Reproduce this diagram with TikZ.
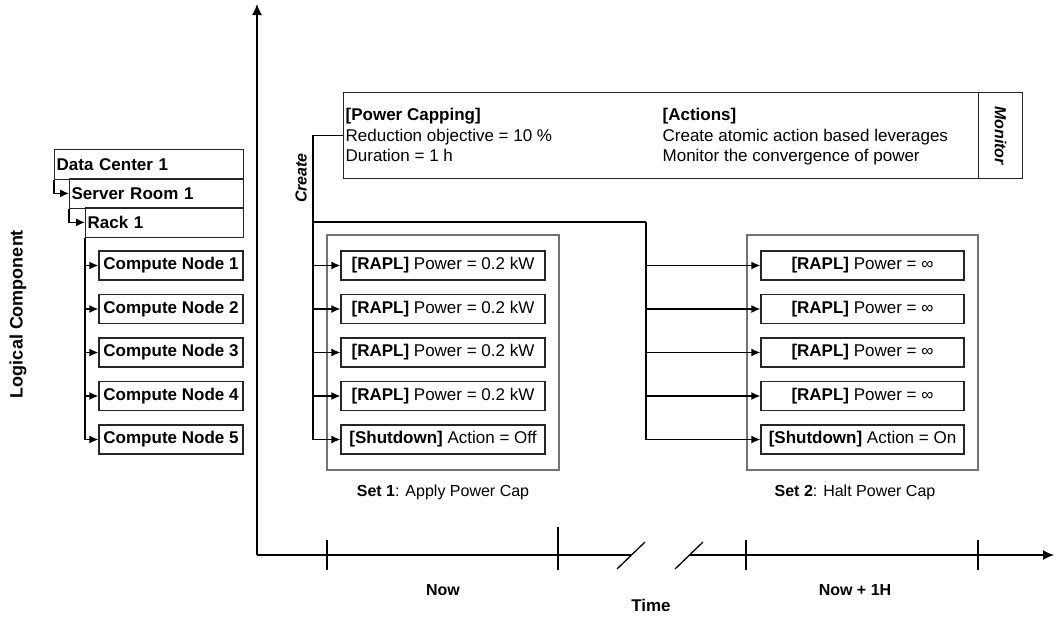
\documentclass[tikz,border=0pt]{standalone}
\usepackage{fontspec}
\setmainfont{Liberation Sans}
\usetikzlibrary{arrows.meta,positioning,fit,calc}

\newcommand{\boxfont}{\fontsize{17}{20.5}\selectfont}
\newcommand{\smallfont}{\fontsize{16}{18}\selectfont}

\begin{document}
\begin{tikzpicture}[x=1pt, y=-1pt, line width=1.3pt, font=\boxfont]
    \tikzstyle{conn}=[-{Latex[length=9pt,width=8pt]}]
    \tikzstyle{zonebox}=[rectangle, draw=black!85, minimum height=29.5pt, inner sep=2pt, anchor=north west, align=left, font=\boxfont\bfseries]
    \tikzstyle{compbox}=[rectangle, draw=black!85, minimum width=144pt, minimum height=29pt, inner sep=1pt, font=\boxfont\bfseries]
    \tikzstyle{leverbox}=[rectangle, draw=black!85, minimum width=204pt, minimum height=29pt, inner sep=1pt]
    \tikzstyle{setbox}=[rectangle, draw=black!55, line width=1.6pt, inner xsep=13.5pt, inner ysep=15.5pt]
    \tikzstyle{axislbl}=[font=\smallfont\bfseries]
    \tikzstyle{setlbl}=[font=\smallfont]
    \useasboundingbox (0,0) rectangle (1055,621);

    \node[rotate=90, font=\fontsize{18}{20}\selectfont\bfseries] (ylbl) at (18,314) {Logical Component};

    \node[zonebox, text width=185pt] (dc) at (54,149) {Data Center 1};
    \node[zonebox, text width=170pt] (room) at (69,178) {Server Room 1};
    \node[zonebox, text width=154pt] (rack) at (85,207) {Rack 1};
    \foreach \i/\y in {1/265.5,2/309,3/352.5,4/396,5/439.5}
        \node[compbox] (cn\i) at (171,\y) {Compute Node \i};
    \draw[conn] (dc.south west) |- (room.west);
    \draw[conn] (room.south west) |- (rack.west);
    \foreach \i in {1,...,5}
        \draw[conn] (rack.south west) |- (cn\i.west);

    \node[draw=black!85, anchor=north west, minimum width=635pt, minimum height=86pt] (cap) at (343,92) {};
    \node[draw=black!85, anchor=north west, minimum width=44pt, minimum height=86pt] (mon) at (978,92) {};
    \node[rotate=-90, font=\smallfont\bfseries\itshape] (monlbl) at (mon.center) {Monitor};
    \node[anchor=north west, align=left, inner sep=2pt] (capinfo) at (343,106) {\textbf{[Power Capping]}\\Reduction objective = 10 \%\\Duration = 1 h};
    \node[anchor=north west, align=left, inner sep=2pt] (actions) at (660,106) {\textbf{[Actions]}\\Create atomic action based leverages\\Monitor the convergence of power};

    \foreach \i/\y in {1/265.5,2/309,3/352.5,4/396}
        \node[leverbox] (a\i) at (443,\y) {\textbf{[RAPL]} Power = 0.2 kW};
    \node[leverbox] (a5) at (443,439.5) {\textbf{[Shutdown]} Action = Off};
    \foreach \i/\y in {1/265.5,2/309,3/352.5,4/396}
        \node[leverbox, minimum width=203pt] (b\i) at (862.5,\y) {\textbf{[RAPL]} Power = ∞};
    \node[leverbox, minimum width=203pt] (b5) at (862.5,439.5) {\textbf{[Shutdown]} Action = On};
    \node[setbox, fit=(a1)(a5)] (set1) {};
    \node[setbox, fit=(b1)(b5)] (set2) {};
    \node[setlbl] (set1lbl) at (443,492) {\textbf{Set 1}: Apply Power Cap};
    \node[setlbl] (set2lbl) at (855,492) {\textbf{Set 2}: Halt Power Cap};

    \node[rotate=90, font=\smallfont\bfseries\itshape] (createlbl) at (301,178) {Create};
    \coordinate (split1) at (313,222);
    \coordinate (split2) at (646,222);
    \draw (cap.west) -| (split1) -- (split2);
    \foreach \i in {1,...,5} {
        \draw[conn] (split1) |- (a\i.west);
        \draw[conn] (split2) |- (b\i.west);
    }

    \coordinate (origin) at (257,555);
    \coordinate (ytop) at (257,4);
    \coordinate (xend) at (1054,555);
    \coordinate (breakl) at (631,555);
    \coordinate (breakr) at (689,555);
    \draw[-{Latex[length=11pt,width=10pt]}] (origin) -- (ytop);
    \draw (origin) -- (breakl);
    \draw[-{Latex[length=11pt,width=10pt]}] (breakr) -- (xend);
    \draw (617,569) -- (645,542);
    \draw (675,569) -- (703,542);
    \foreach \x in {327,746,978}
        \draw (\x,540) -- (\x,570);
    \draw (558,527) -- (558,570);
    \node[axislbl] (now) at (443,590) {Now};
    \node[axislbl] (later) at (855,590) {Now + 1H};
    \node[axislbl, font=\fontsize{17}{19}\selectfont\bfseries] (time) at (651,605) {Time};
\end{tikzpicture}
\end{document}
